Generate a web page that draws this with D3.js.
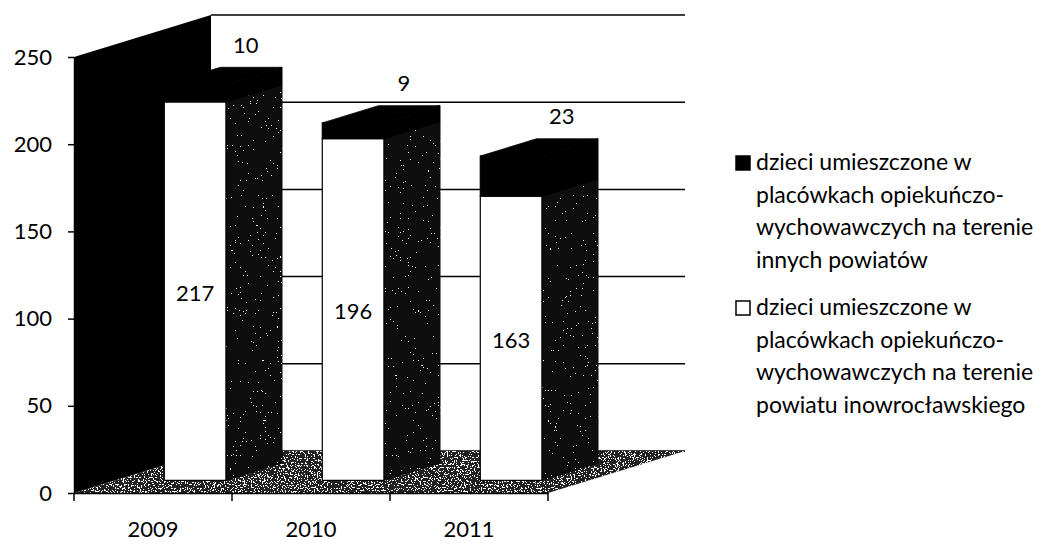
<!DOCTYPE html>
<html>
<head>
<meta charset="utf-8">
<script src="https://cdn.jsdelivr.net/npm/d3@7"></script>
<style>
  body { margin: 0; background: #fff; }
  svg { display: block; font-family: Lato, "Noto Sans", sans-serif; }
</style>
</head>
<body>
<div id="viz"></div>
<script>
const years = ["2009", "2010", "2011"];
const local = [217, 196, 163];   // white series
const other = [10, 9, 23];       // black series, stacked on top
const yTicks = [0, 50, 100, 150, 200, 250];
const legendOther = ["dzieci umieszczone w", "placówkach opiekuńczo-", "wychowawczych na terenie", "innych powiatów"];
const legendLocal = ["dzieci umieszczone w", "placówkach opiekuńczo-", "wychowawczych na terenie", "powiatu inowrocławskiego"];

const width = 1048, height = 548;
const DX = 137, DY = -42;   // offset from front plane to back wall
const D1 = 0.3, D2 = 0.71;  // depth of bar front / back faces

const svg = d3.select("#viz").append("svg")
    .attr("width", width)
    .attr("height", height);

const x = d3.scaleBand().domain(years).range([74, 548]);
const y = d3.scaleLinear().domain([0, 250]).range([493, 57]);
const barW = x.bandwidth() * 0.39;

const pt = (px, v, d) => [px + d * DX, y(v) + d * DY];
const poly = pts => pts.map(p => p.join(",")).join(" ");

// speckle texture for side faces and floor
const defs = svg.append("defs");
function speckle(id, offset, freq) {
    const f = defs.append("filter").attr("id", id)
        .attr("x", 0).attr("y", 0).attr("width", 1).attr("height", 1)
        .attr("color-interpolation-filters", "sRGB");
    f.append("feTurbulence").attr("type", "fractalNoise").attr("baseFrequency", freq)
        .attr("numOctaves", 2).attr("seed", 7).attr("result", "noise");
    f.append("feColorMatrix").attr("in", "noise").attr("type", "matrix")
        .attr("values", `0 0 0 0 1  0 0 0 0 1  0 0 0 0 1  4 0 0 0 ${offset}`).attr("result", "a");
    f.append("feComponentTransfer").attr("in", "a").attr("result", "dots")
        .append("feFuncA").attr("type", "discrete").attr("tableValues", "0 1");
    f.append("feComposite").attr("in", "dots").attr("in2", "SourceGraphic")
        .attr("operator", "in").attr("result", "clip");
    const m = f.append("feMerge");
    m.append("feMergeNode").attr("in", "SourceGraphic");
    m.append("feMergeNode").attr("in", "clip");
}
speckle("spk-side", -2.5, 0.6);
speckle("spk-floor", -1.85, 0.7);

const [x0, x1] = x.range();

// back wall + gridlines
svg.append("polygon")
    .attr("points", poly([pt(x0, 250, 1), pt(x1, 250, 1), pt(x1, 0, 1), pt(x0, 0, 1)]))
    .attr("fill", "#fff");

svg.append("g").selectAll("line")
    .data(yTicks)
    .enter()
    .append("line")
    .attr("x1", d => pt(x0, d, 1)[0])
    .attr("x2", d => pt(x1, d, 1)[0])
    .attr("y1", d => pt(x0, d, 1)[1])
    .attr("y2", d => pt(x1, d, 1)[1])
    .attr("stroke", "#000")
    .attr("stroke-width", 1.5);

// left side wall
svg.append("polygon")
    .attr("points", poly([pt(x0, 250, 0), pt(x0, 250, 1), pt(x0, 0, 1), pt(x0, 0, 0)]))
    .attr("fill", "#000");

// floor
svg.append("polygon")
    .attr("points", poly([pt(x0, 0, 0), pt(x1, 0, 0), pt(x1, 0, 1), pt(x0, 0, 1)]))
    .attr("fill", "#222")
    .attr("filter", "url(#spk-floor)");

// bars
const segs = [];
years.forEach((yr, i) => {
    const left = x(yr) + (x.bandwidth() - barW) / 2 + 1;
    segs.push({ yr, left, v0: 0, v1: local[i], front: "#fff", side: "#0d0d0d", sideF: "url(#spk-side)" });
    segs.push({ yr, left, v0: local[i], v1: local[i] + other[i], front: "#000", side: "#000", sideF: null });
});

const bars = svg.append("g").selectAll("g")
    .data(segs)
    .enter()
    .append("g");

bars.append("polygon")
    .attr("points", d => poly([pt(d.left + barW, d.v1, D1), pt(d.left + barW, d.v1, D2),
                               pt(d.left + barW, d.v0, D2), pt(d.left + barW, d.v0, D1)]))
    .attr("fill", d => d.side)
    .attr("stroke", d => d.side)
    .attr("stroke-width", 0.8)
    .attr("filter", d => d.sideF);

bars.append("polygon")
    .attr("points", d => poly([pt(d.left, d.v1, D1), pt(d.left, d.v1, D2),
                               pt(d.left + barW, d.v1, D2), pt(d.left + barW, d.v1, D1)]))
    .attr("fill", "#000")
    .attr("stroke", "#000")
    .attr("stroke-width", 0.8);

bars.append("polygon")
    .attr("points", d => poly([pt(d.left, d.v1, D1), pt(d.left + barW, d.v1, D1),
                               pt(d.left + barW, d.v0, D1), pt(d.left, d.v0, D1)]))
    .attr("fill", d => d.front)
    .attr("stroke", "#000")
    .attr("stroke-width", 1.2);

// value labels
svg.append("g").selectAll("text")
    .data(years)
    .enter()
    .append("text")
    .attr("x", (d, i) => pt(x(d) + x.bandwidth() / 2 + 1, local[i] / 2, D1)[0])
    .attr("y", (d, i) => pt(0, local[i] / 2, D1)[1] + 2)
    .attr("dy", "0.35em")
    .attr("text-anchor", "middle")
    .style("font-size", "22px")
    .text((d, i) => local[i]);

svg.append("g").selectAll("text")
    .data(years)
    .enter()
    .append("text")
    .attr("x", (d, i) => pt(x(d) + x.bandwidth() / 2 + 1, 0, 0.67)[0])
    .attr("y", (d, i) => pt(0, local[i] + other[i], D2)[1] - 22)
    .attr("dy", "0.35em")
    .attr("text-anchor", "middle")
    .style("font-size", "22px")
    .text((d, i) => other[i]);

// axes
const yAxis = d3.axisLeft(y).tickValues(yTicks).tickSize(6).tickSizeOuter(0).tickPadding(16);
svg.append("g")
    .attr("transform", `translate(${x0}, 0)`)
    .call(yAxis)
    .call(g => g.selectAll("line, path").attr("stroke", "#000").attr("stroke-width", 1.5))
    .call(g => g.selectAll("text").attr("fill", "#000")
        .style("font-size", "22px").style("font-family", "Lato, 'Noto Sans', sans-serif"));

const xAxis = d3.axisBottom(x).tickSize(0).tickSizeOuter(0).tickPadding(28);
svg.append("g")
    .attr("transform", "translate(0, 493)")
    .call(xAxis)
    .call(g => g.select(".domain").attr("stroke", "#000").attr("stroke-width", 1.5))
    .call(g => g.selectAll("text").attr("fill", "#000")
        .style("font-size", "22px").style("font-family", "Lato, 'Noto Sans', sans-serif"));

svg.append("g").selectAll("line")
    .data(years.map(d => x(d)).concat(x1))
    .enter()
    .append("line")
    .attr("x1", d => d).attr("x2", d => d)
    .attr("y1", 493).attr("y2", 501)
    .attr("stroke", "#000")
    .attr("stroke-width", 1.5);

// legend
const legend = [
    { lines: legendOther, fill: "#000", top: 170 },
    { lines: legendLocal, fill: "#fff", top: 315 }
];
const lg = svg.append("g").selectAll("g")
    .data(legend)
    .enter()
    .append("g");

lg.append("rect")
    .attr("x", 736)
    .attr("y", d => d.top - 14)
    .attr("width", 14)
    .attr("height", 14)
    .attr("fill", d => d.fill)
    .attr("stroke", "#000")
    .attr("stroke-width", 1.5);

lg.append("text")
    .attr("x", 756)
    .attr("y", d => d.top)
    .style("font-size", "23px")
    .selectAll("tspan")
    .data(d => d.lines)
    .enter()
    .append("tspan")
    .attr("x", 756)
    .attr("dy", (d, i) => i === 0 ? 0 : 32.5)
    .text(d => d);
</script>
</body>
</html>
